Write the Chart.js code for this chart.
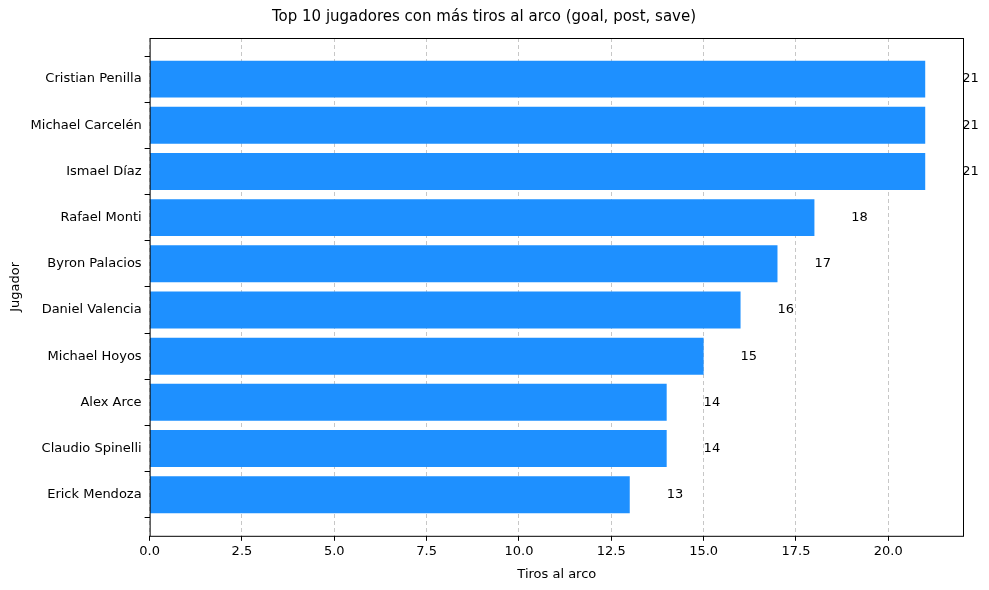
<!DOCTYPE html>
<html><head><meta charset="utf-8">
<script src="https://cdn.jsdelivr.net/npm/chart.js@4/dist/chart.umd.min.js"></script>
<style>html,body{margin:0;background:#fff}#w{width:989px;height:590px}</style>
</head><body><div id="w"><canvas id="c"></canvas></div>
<script>
const players = ["Cristian Penilla","Michael Carcelén","Ismael Díaz","Rafael Monti","Byron Palacios","Daniel Valencia","Michael Hoyos","Alex Arce","Claudio Spinelli","Erick Mendoza"];
const shots = [21,21,21,18,17,16,15,14,14,13];
const xTicks = [0,2.5,5,7.5,10,12.5,15,17.5,20];
Chart.defaults.font.family = "DejaVu Sans";
Chart.defaults.color = "#000";
const deco = {
  id:'deco',
  afterDatasetsDraw(ch){
    const {ctx, chartArea:a, scales:{x,y}} = ch;
    ctx.save();
    ctx.font = "13px DejaVu Sans"; ctx.fillStyle="#000"; ctx.textBaseline="middle"; ctx.textAlign="left";
    shots.forEach((v,i)=>ctx.fillText(String(v), x.getPixelForValue(v+1), y.getPixelForValue(i)));
    ctx.strokeStyle="#000"; ctx.lineWidth=1;
    ctx.strokeRect(a.left+0.5,a.top+0.5,a.right-a.left-1,a.bottom-a.top);
    ctx.restore();
  }
};
new Chart(document.getElementById('c'),{
  type:'bar',
  data:{datasets:[{data:shots.map((v,i)=>({x:v,y:i})),backgroundColor:'#1E90FF',barPercentage:0.8,categoryPercentage:1}]},
  options:{
    indexAxis:'y', responsive:true, maintainAspectRatio:false, animation:false,
    layout:{padding:{top:4,right:25,left:4,bottom:4}},
    plugins:{legend:{display:false},tooltip:{enabled:false},
      title:{display:true,text:'Top 10 jugadores con más tiros al arco (goal, post, save)',font:{size:15,weight:'normal'},padding:{top:4,bottom:12}}},
    scales:{
      x:{type:'linear',min:0,max:22.05,
        afterBuildTicks(s){s.ticks=xTicks.map(v=>({value:v}));},
        ticks:{font:{size:13},callback:v=>v.toFixed(1)},
        grid:{color:'rgba(0,0,0,0.22)',drawTicks:true,tickColor:'#000',tickLength:5},
        border:{dash:[4,3],display:false},
        title:{display:true,text:'Tiros al arco',font:{size:13}}},
      y:{type:'linear',min:-0.89,max:9.89,reverse:true,offset:false,
        afterBuildTicks(s){s.ticks=players.map((p,i)=>({value:i}));},
        ticks:{font:{size:13},callback:v=>players[v]},
        grid:{drawOnChartArea:false,drawTicks:true,tickColor:'#000',tickLength:5},
        border:{display:false},
        title:{display:true,text:'Jugador',font:{size:13}}}
    }
  },
  plugins:[deco]
});
</script></body></html>
